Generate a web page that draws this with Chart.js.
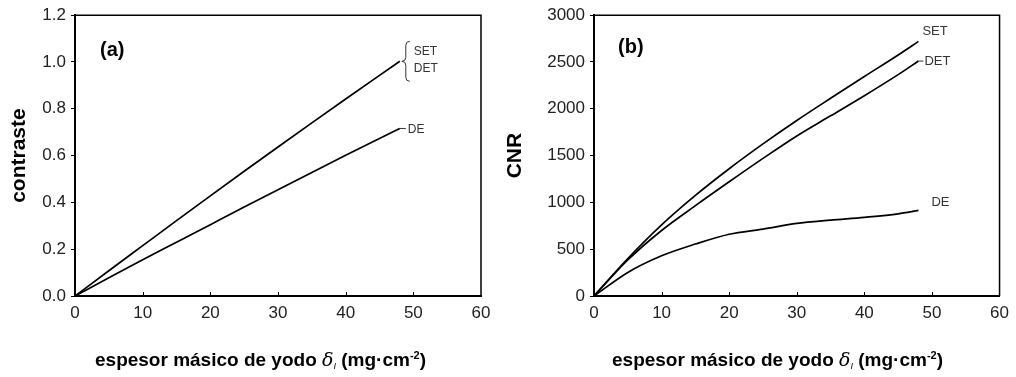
<!DOCTYPE html>
<html lang="es">
<head>
<meta charset="utf-8">
<title>Contraste y CNR frente al espesor másico de yodo</title>
<script src="https://cdn.jsdelivr.net/npm/chart.js@4.4.1/dist/chart.umd.min.js"></script>
<style>
  html, body { margin: 0; padding: 0; background: #fff; }
  body {
    width: 1016px;
    height: 377px;
    position: relative;
    overflow: hidden;
    font-family: "Liberation Sans", Arial, sans-serif;
  }
  .panel { position: absolute; top: 0; height: 377px; }
  #panelA { left: 0; width: 500px; }
  #panelB { left: 500px; width: 516px; }
  .tag {
    position: absolute;
    font-weight: bold;
    font-size: 20px;
    line-height: 20px;
    color: #000;
  }
  .xtitle {
    position: absolute;
    top: 346px;
    font-weight: bold;
    font-size: 19px;
    line-height: 19px;
    color: #000;
    white-space: nowrap;
  }
  .xtitle i { font-family: "DejaVu Serif", serif; font-weight: normal; }
  .xtitle sub { font-size: 9px; font-weight: normal; font-style: italic; vertical-align: -3px; }
  .xtitle sup { font-size: 11px; vertical-align: 7px; }
</style>
</head>
<body>

<div class="panel" id="panelA"><canvas id="chartA" width="500" height="377"></canvas></div>
<div class="panel" id="panelB"><canvas id="chartB" width="516" height="377"></canvas></div>

<div class="tag" style="left:100px; top:39px;">(a)</div>
<div class="tag" style="left:618px; top:36px;">(b)</div>

<div class="xtitle" style="left:95px;">espesor másico de yodo <i>δ</i><sub>I</sub> (mg·cm<sup>-2</sup>)</div>
<div class="xtitle" style="left:612px;">espesor másico de yodo <i>δ</i><sub>I</sub> (mg·cm<sup>-2</sup>)</div>

<script>
// espesor másico de yodo (mg/cm2)
const espesorA = [0, 5, 10, 15, 20, 25, 30, 35, 40, 45, 48];
const espesorB = [0, 5, 10, 15, 20, 25, 30, 35, 40, 45, 48];

// (a) contraste - SET and DET coincide
const contrasteSetDet = [0, 0.108, 0.215, 0.322, 0.428, 0.533, 0.637, 0.74, 0.842, 0.943, 1.003];
const contrasteDe = [0, 0.078, 0.155, 0.23, 0.305, 0.38, 0.454, 0.528, 0.601, 0.673, 0.716];

// (b) CNR
const cnrSet = [0, 400, 760, 1075, 1360, 1625, 1875, 2112, 2345, 2575, 2720];
const cnrDet = [0, 385, 700, 965, 1220, 1470, 1710, 1925, 2140, 2365, 2510];
const cnrDe = [0, 252, 430, 555, 660, 715, 775, 810, 840, 878, 914];

// axis ticks
const ticksEspesor = [0, 10, 20, 30, 40, 50, 60];
const ticksContraste = [0, 0.2, 0.4, 0.6, 0.8, 1.0, 1.2];
const ticksCnr = [0, 500, 1000, 1500, 2000, 2500, 3000];

Chart.defaults.font.family = '"Liberation Sans", Arial, sans-serif';
Chart.defaults.color = "#222";

const toPoints = (xs, ys) => xs.map((x, i) => ({ x: x, y: ys[i] }));

/**
 * Top/right frame of the plot box and inward x ticks
 */
const frame = {
  id: "frame",
  afterDraw(chart) {
    const { ctx, chartArea: a, scales } = chart;
    const x = scales.x;
    ctx.save();
    ctx.strokeStyle = "#000";
    ctx.lineWidth = 1.5;
    ctx.beginPath();
    ctx.moveTo(a.left, a.top);
    ctx.lineTo(a.right, a.top);
    ctx.lineTo(a.right, a.bottom);
    ctx.stroke();

    ctx.lineWidth = 1;
    ctx.beginPath();
    x.ticks.forEach((t) => {
      const px = Math.round(x.getPixelForValue(t.value)) + 0.5;
      if (px > a.left + 2 && px < a.right - 2) {
        ctx.moveTo(px, a.bottom);
        ctx.lineTo(px, a.bottom - 4);
      }
    });
    ctx.stroke();
    ctx.restore();
  },
};

/**
 * Curve names written next to the end of each line
 */
function drawBrace(ctx, x, y, h) {
  ctx.beginPath();
  ctx.moveTo(x + 8, y - h);
  ctx.quadraticCurveTo(x + 4, y - h, x + 4, y - h + 4);
  ctx.lineTo(x + 4, y - 4);
  ctx.quadraticCurveTo(x + 4, y, x, y);
  ctx.quadraticCurveTo(x + 4, y, x + 4, y + 4);
  ctx.lineTo(x + 4, y + h - 4);
  ctx.quadraticCurveTo(x + 4, y + h, x + 8, y + h);
  ctx.stroke();
}

const curveLabels = {
  id: "curveLabels",
  afterDatasetsDraw(chart, args, opts) {
    const ctx = chart.ctx;
    ctx.save();
    ctx.font = opts.size + 'px "Liberation Sans", Arial, sans-serif';
    ctx.textBaseline = "middle";
    ctx.fillStyle = "#333";
    ctx.strokeStyle = "#333";
    ctx.lineWidth = 1;
    opts.items.forEach((item) => {
      const pts = chart.getDatasetMeta(item.dataset).data;
      const end = pts[pts.length - 1];
      if (item.dash) {
        ctx.beginPath();
        ctx.moveTo(end.x, end.y);
        ctx.lineTo(end.x + item.dash, end.y);
        ctx.stroke();
      }
      if (item.brace) {
        drawBrace(ctx, end.x + 2, end.y, item.brace);
      }
      item.lines.forEach((t, i) => {
        ctx.fillText(t, end.x + item.dx, end.y + item.dy + i * 17);
      });
    });
    ctx.restore();
  },
};

function lineDataset(label, xs, ys) {
  return {
    label: label,
    data: toPoints(xs, ys),
    borderColor: "#000",
    borderWidth: 1.7,
    pointRadius: 0,
    fill: false,
    cubicInterpolationMode: "monotone",
  };
}

function makeOptions(cfg) {
  return {
    responsive: false,
    animation: false,
    devicePixelRatio: 1,
    layout: { padding: cfg.padding },
    plugins: {
      legend: { display: false },
      tooltip: { enabled: false },
      curveLabels: cfg.labels,
    },
    scales: {
      x: {
        type: "linear",
        min: 0,
        max: 60,
        afterBuildTicks: (s) => {
          s.ticks = ticksEspesor.map((v) => ({ value: v }));
        },
        afterFit: (s) => {
          s.height = cfg.xHeight;
        },
        grid: { drawOnChartArea: false, drawTicks: false },
        border: { color: "#000", width: 2 },
        ticks: { padding: 7, font: { size: 17 }, maxRotation: 0 },
      },
      y: {
        type: "linear",
        min: 0,
        max: cfg.yMax,
        afterBuildTicks: (s) => {
          s.ticks = cfg.yTicks.map((v) => ({ value: v }));
        },
        afterFit: (s) => {
          s.width = cfg.yWidth;
        },
        grid: { drawOnChartArea: false, tickLength: 4, color: "#000" },
        border: { color: "#000", width: 2 },
        ticks: {
          padding: 5,
          font: { size: 17 },
          callback: cfg.yFormat,
        },
        title: {
          display: true,
          text: cfg.yTitle,
          color: "#000",
          font: { size: 21, weight: "bold" },
          padding: { top: cfg.yTitlePad, bottom: 0 },
        },
      },
    },
  };
}

// (a) contraste
new Chart(document.getElementById("chartA"), {
  type: "line",
  data: {
    datasets: [
      lineDataset("SET / DET", espesorA, contrasteSetDet),
      lineDataset("DE", espesorA, contrasteDe),
    ],
  },
  options: makeOptions({
    padding: { left: 0, right: 19, top: 13, bottom: 0 },
    xHeight: 81,
    yWidth: 75,
    yMax: 1.2,
    yTicks: ticksContraste,
    yFormat: (v) => v.toFixed(1),
    yTitle: "contraste",
    yTitlePad: 7,
    labels: {
      size: 12,
      items: [
        { dataset: 0, lines: ["SET", "DET"], dx: 14, dy: -10, brace: 20 },
        { dataset: 1, lines: ["DE"], dx: 8, dy: 1, dash: 6 },
      ],
    },
  }),
  plugins: [frame, curveLabels],
});

// (b) CNR
new Chart(document.getElementById("chartB"), {
  type: "line",
  data: {
    datasets: [
      lineDataset("SET", espesorB, cnrSet),
      lineDataset("DET", espesorB, cnrDet),
      lineDataset("DE", espesorB, cnrDe),
    ],
  },
  options: makeOptions({
    padding: { left: 0, right: 14, top: 11, bottom: 0 },
    xHeight: 81,
    yWidth: 94,
    yMax: 3000,
    yTicks: ticksCnr,
    yFormat: (v) => String(v),
    yTitle: "CNR",
    yTitlePad: 3,
    labels: {
      size: 13,
      items: [
        { dataset: 0, lines: ["SET"], dx: 4, dy: -10 },
        { dataset: 1, lines: ["DET"], dx: 6, dy: 0, dash: 5 },
        { dataset: 2, lines: ["DE"], dx: 13, dy: -8 },
      ],
    },
  }),
  plugins: [frame, curveLabels],
});
</script>
</body>
</html>
